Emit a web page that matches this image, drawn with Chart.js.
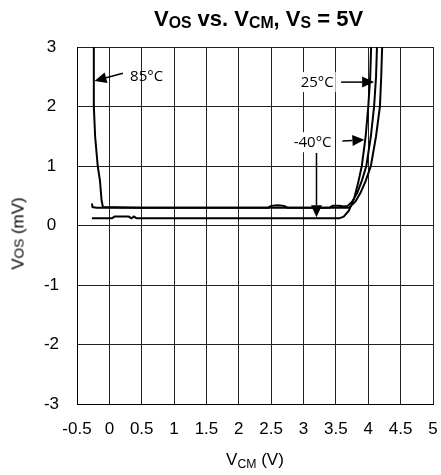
<!DOCTYPE html>
<html>
<head>
<meta charset="utf-8">
<script src="https://cdn.jsdelivr.net/npm/chart.js@4"></script>
<style>
  body { margin: 0; background: #fff; }
  #wrap { position: relative; width: 441px; height: 475px; font-family: "Liberation Sans", Arial, sans-serif; color: #000; }
  #title { position: absolute; left: 0; width: 517px; top: 7px; line-height: 24px; text-align: center; font-size: 22px; font-weight: bold; white-space: nowrap; }
  #xtitle { position: absolute; left: 0; width: 510px; top: 450px; line-height: 20px; text-align: center; font-size: 17px; white-space: nowrap; }
  #ytitle { position: absolute; left: -41px; top: 223px; width: 120px; line-height: 20px; text-align: center; font-size: 17px; transform: rotate(-90deg); white-space: nowrap; color: #000; }
  .sb { font-size: 0.72em; vertical-align: -2px; }
  .sx { font-size: 0.72em; vertical-align: -3px; }
  canvas { position: absolute; left: 0; top: 0; }
</style>
</head>
<body>
<div id="wrap">
  <canvas id="voschart" width="441" height="475"></canvas>
  <div id="title">V<span class="sb">OS</span> vs. V<span class="sb">CM</span>, V<span class="sb">S</span> = 5V</div>
  <div id="xtitle">V<span class="sx">CM</span> (V)</div>
  <div id="ytitle">V<span style="font-size:0.8em">OS</span> (mV)</div>
</div>
<script>
// V_CM (V) / V_OS (mV)
const vcm85 = [-0.24, -0.24, -0.22, -0.18, -0.145, -0.12, -0.1, 0.5, 1.5, 2.5, 3.0, 3.5, 3.7, 3.8, 3.88, 3.96, 4.04, 4.12, 4.18, 4.2, 4.22];
const vos85 = [3.2, 2.0, 1.5, 1.0, 0.75, 0.42, 0.31, 0.3, 0.3, 0.3, 0.3, 0.3, 0.3, 0.4, 0.55, 0.75, 1.0, 1.5, 2.0, 2.5, 3.2];

const vcm25 = [-0.27, -0.26, -0.2, 0.5, 1.5, 2.45, 2.5, 2.6, 2.7, 2.75, 3.4, 3.45, 3.55, 3.62, 3.68, 3.75, 3.83, 3.9, 3.97, 4.04, 4.09, 4.12, 4.14];
const vos25 = [0.37, 0.31, 0.3, 0.3, 0.3, 0.3, 0.33, 0.34, 0.33, 0.3, 0.3, 0.33, 0.33, 0.32, 0.33, 0.4, 0.55, 0.75, 1.0, 1.5, 2.0, 2.5, 3.2];

const vcmM40 = [-0.27, 0.04, 0.08, 0.3, 0.34, 0.38, 0.42, 0.5, 1.0, 2.0, 3.0, 3.55, 3.62, 3.7, 3.78, 3.84, 3.9, 3.96, 4.0, 4.03, 4.05];
const vosM40 = [0.12, 0.12, 0.15, 0.15, 0.12, 0.15, 0.12, 0.12, 0.12, 0.12, 0.12, 0.12, 0.15, 0.25, 0.45, 0.7, 1.0, 1.5, 2.0, 2.5, 3.2];

const xTicks = { min: -0.5, max: 5, step: 0.5 };
const yTicks = { min: -3, max: 3, step: 1 };

const pts = (xs, ys) => xs.map((x, i) => ({ x: x, y: ys[i] }));

const line = (label, xs, ys) => ({
  label: label,
  data: pts(xs, ys),
  borderColor: "#000",
  borderWidth: 2,
  pointRadius: 0,
  tension: 0,
  fill: false,
});

// callouts, in data units
const labels = [
  { text: "85°C", x: 0.32, y: 2.52, align: "left", box: false },
  { text: "25°C", x: 3.21, y: 2.41, align: "center", box: true },
  { text: "-40°C", x: 3.14, y: 1.4, align: "center", box: true },
];
const arrows = [
  { from: [0.21, 2.56], to: [-0.23, 2.43] },
  { from: [3.58, 2.41], to: [4.09, 2.41] },
  { from: [3.6, 1.42], to: [3.94, 1.44] },
  { from: [3.2, 1.22], to: [3.2, 0.14] },
];

const callouts = {
  id: "callouts",
  afterDatasetsDraw(chart) {
    const ctx = chart.ctx, xs = chart.scales.x, ys = chart.scales.y;
    ctx.save();
    ctx.font = '15px "Open Sans", sans-serif';
    ctx.textBaseline = "middle";
    labels.forEach(l => {
      const px = xs.getPixelForValue(l.x), py = ys.getPixelForValue(l.y);
      const w = ctx.measureText(l.text).width;
      const left = l.align === "center" ? px - w / 2 : px;
      if (l.box) {
        ctx.fillStyle = "#fff";
        ctx.fillRect(left - 2, py - 10, w + 4, 20);
      }
      ctx.fillStyle = "#000";
      ctx.textAlign = "left";
      ctx.fillText(l.text, left, py + 1);
    });
    arrows.forEach(a => {
      const x0 = xs.getPixelForValue(a.from[0]), y0 = ys.getPixelForValue(a.from[1]);
      const x1 = xs.getPixelForValue(a.to[0]), y1 = ys.getPixelForValue(a.to[1]);
      const ang = Math.atan2(y1 - y0, x1 - x0);
      const hl = 12, hw = 5.5;
      const bx = x1 - hl * Math.cos(ang), by = y1 - hl * Math.sin(ang);
      ctx.strokeStyle = "#000";
      ctx.lineWidth = 1.5;
      ctx.beginPath();
      ctx.moveTo(x0, y0);
      ctx.lineTo(bx, by);
      ctx.stroke();
      ctx.fillStyle = "#000";
      ctx.beginPath();
      ctx.moveTo(x1, y1);
      ctx.lineTo(bx + hw * Math.sin(ang), by - hw * Math.cos(ang));
      ctx.lineTo(bx - hw * Math.sin(ang), by + hw * Math.cos(ang));
      ctx.closePath();
      ctx.fill();
    });
    ctx.restore();
  },
};

Chart.defaults.font.family = '"Liberation Sans", Arial, sans-serif';
Chart.defaults.color = "#000";

const config = {
  type: "line",
  data: {
    datasets: [
      line("85°C", vcm85, vos85),
      line("25°C", vcm25, vos25),
      line("-40°C", vcmM40, vosM40),
    ],
  },
  options: {
    responsive: false,
    animation: false,
    layout: { padding: { top: 47, right: 8, left: 0, bottom: 0 } },
    plugins: { legend: { display: false }, tooltip: { enabled: false } },
    scales: {
      x: {
        type: "linear",
        min: xTicks.min,
        max: xTicks.max,
        afterFit: s => { s.height = 71; s.paddingLeft = 0; s.paddingRight = 0; },
        ticks: {
          stepSize: xTicks.step,
          font: { size: 17 },
          padding: 15,
          maxRotation: 0,
          autoSkip: false,
          callback: v => String(Math.round(v * 10) / 10),
        },
        grid: { color: "#222", lineWidth: 1, drawTicks: false },
        border: { color: "#000", width: 1 },
      },
      y: {
        min: yTicks.min,
        max: yTicks.max,
        afterFit: s => { s.width = 77; s.paddingTop = 0; s.paddingBottom = 0; },
        ticks: { stepSize: yTicks.step, font: { size: 17 }, padding: 18, crossAlign: "center" },
        grid: { color: "#222", lineWidth: 1, drawTicks: false },
        border: { color: "#000", width: 1 },
      },
    },
  },
  plugins: [callouts],
};

var chart = new Chart(document.getElementById("voschart").getContext("2d"), config);
</script>
</body>
</html>
